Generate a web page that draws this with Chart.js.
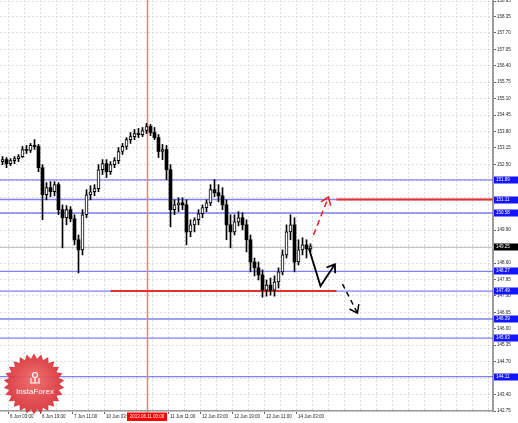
<!DOCTYPE html>
<html><head><meta charset="utf-8">
<script src="https://cdn.jsdelivr.net/npm/chart.js@4.4.1/dist/chart.umd.min.js"></script>
<style>html,body{margin:0;padding:0;background:#fff;overflow:hidden}canvas{display:block}</style>
</head><body>
<canvas id="c" width="518" height="423"></canvas>
<script>
// ---- data (2-hour candles, hours counted in trading hours from 5 Jun 23:00) ----
const opens = [152.61,152.69,152.53,152.65,152.73,152.81,153.09,153.05,153.25,153.21,
 152.37,151.30,151.58,151.42,151.70,150.71,150.39,150.71,150.35,149.52,
 149.12,150.51,151.30,151.42,151.54,152.29,152.53,152.21,152.49,152.65,
 153.01,153.21,153.48,153.60,153.72,153.68,153.84,154.00,153.76,153.56,
 153.01,153.09,152.29,150.71,150.90,150.98,150.90,149.83,150.11,150.31,
 150.55,150.79,150.98,151.50,151.38,151.26,150.90,150.11,149.83,150.23,
 150.39,150.11,149.52,148.64,148.41,148.13,147.53,147.73,147.53,147.85,
 148.25,148.92,149.83,150.11,148.64,149.12,149.32,149.16];
const highs = [152.81,152.77,152.73,152.81,152.89,153.21,153.25,153.33,153.48,153.29,
 152.49,151.78,151.82,151.82,151.78,150.90,150.87,150.83,150.51,149.71,
 150.71,151.50,151.66,151.70,152.49,152.69,152.69,152.61,152.77,153.17,
 153.33,153.56,153.76,153.88,153.92,153.96,154.12,154.08,153.96,153.68,
 153.29,153.25,152.49,151.10,151.18,151.18,151.10,150.31,150.39,150.71,
 150.90,151.10,151.70,151.90,151.70,151.58,151.10,150.51,150.51,150.63,
 150.59,150.31,149.71,148.80,148.64,148.33,147.93,148.01,148.09,148.41,
 149.12,150.11,150.51,150.39,149.52,149.60,149.52,149.36];
const lows = [152.49,152.37,152.45,152.53,152.61,152.77,152.93,152.97,153.09,152.21,
 150.31,151.10,151.22,151.26,150.51,149.20,150.11,150.23,149.32,148.21,
 148.92,150.39,151.10,151.26,151.42,152.10,151.98,152.10,152.37,152.53,
 152.89,153.09,153.33,153.48,153.56,153.60,153.72,153.64,153.48,152.77,
 152.69,151.90,150.03,150.51,150.63,150.71,149.32,149.64,149.83,150.11,
 150.39,150.63,150.87,151.22,151.02,150.71,149.52,149.20,149.71,150.07,
 149.91,149.04,148.25,148.09,147.93,147.25,147.29,147.33,147.29,147.61,
 148.13,148.80,149.52,148.25,148.52,148.92,148.80,149.04];
const closes = [152.69,152.53,152.65,152.73,152.81,153.09,153.05,153.25,153.21,152.37,
 151.30,151.58,151.42,151.70,150.71,150.39,150.71,150.35,149.52,149.12,
 150.51,151.30,151.42,151.54,152.29,152.53,152.21,152.49,152.65,153.01,
 153.21,153.48,153.60,153.72,153.68,153.84,154.00,153.76,153.56,153.01,
 153.09,152.29,150.71,150.90,150.98,150.90,149.83,150.11,150.31,150.55,
 150.79,150.98,151.50,151.38,151.26,150.90,150.11,149.83,150.23,150.39,
 150.11,149.52,148.64,148.41,148.13,147.53,147.73,147.53,147.85,148.25,
 148.92,149.83,150.11,148.64,149.12,149.32,149.16,149.25];
const barHours = opens.map((_, i) => i * 2 + 1);

const timeTickHours = [4, 20, 36, 52, 84, 100, 116, 132, 148];
const timeTickLabels = ['6 Jun 03:00','6 Jun 19:00','7 Jun 11:00','10 Jun 03:00','11 Jun 11:00','12 Jun 03:00','12 Jun 19:00','13 Jun 11:00','14 Jun 03:00'];
const markerHour = 73;
const markerLabel = '2013.06.11 00:00';

const priceTicks = [142.75,143.40,144.05,144.70,145.35,146.00,146.65,147.30,147.95,148.60,149.25,149.90,150.55,151.20,151.85,152.50,153.15,153.80,154.45,155.10,155.75,156.40,157.05,157.70,158.35,158.95];
const hiddenPriceTicks = [144.05,150.55,151.20,151.85];

const levelPrices = [151.89,151.11,150.58,148.27,147.49,146.39,145.63,144.11];
const currentPrice = 149.25;
const redLevelPrices = [151.11, 147.49];
const redLevelFromHours = [168, 55];
const redLevelToHours = [246.25, 168];

const blackArrowHours = [154.2, 160, 167.2];
const blackArrowPrices = [149.18, 147.69, 148.55];
const redArrowHours = [156.5, 164];
const redArrowPrices = [149.71, 151.21];
const dashArrowHours = [171, 178.5];
const dashArrowPrices = [147.77, 146.62];

const FONT = '"Liberation Sans", Arial, sans-serif';

function arrow(ctx, xs, ys, color, width, dash) {
  ctx.save();
  ctx.strokeStyle = color; ctx.lineWidth = width; ctx.setLineDash(dash);
  ctx.lineJoin = 'miter'; ctx.lineCap = 'butt';
  ctx.beginPath();
  xs.forEach((x, i) => i ? ctx.lineTo(x, ys[i]) : ctx.moveTo(x, ys[i]));
  ctx.stroke();
  const n = xs.length;
  const ang = Math.atan2(ys[n-1] - ys[n-2], xs[n-1] - xs[n-2]);
  const L = 9, s = 0.62;
  ctx.setLineDash([]);
  ctx.beginPath();
  ctx.moveTo(xs[n-1] - L*Math.cos(ang - s), ys[n-1] - L*Math.sin(ang - s));
  ctx.lineTo(xs[n-1], ys[n-1]);
  ctx.lineTo(xs[n-1] - L*Math.cos(ang + s), ys[n-1] - L*Math.sin(ang + s));
  ctx.stroke();
  ctx.restore();
}

const overlays = {
  id: 'overlays',
  beforeDatasetsDraw(chart) {
    const {ctx, chartArea: a, scales: {x, y}} = chart;
    ctx.save();
    ctx.setLineDash([]);
    ctx.strokeStyle = '#c4c4c4'; ctx.lineWidth = 1;
    let py = Math.round(y.getPixelForValue(currentPrice)) + 0.5;
    ctx.beginPath(); ctx.moveTo(a.left, py); ctx.lineTo(a.right, py); ctx.stroke();
    ctx.strokeStyle = 'rgba(60,60,255,0.65)'; ctx.lineWidth = 1.4;
    levelPrices.forEach(p => {
      const yy = y.getPixelForValue(p);
      ctx.beginPath(); ctx.moveTo(a.left, yy); ctx.lineTo(a.right, yy); ctx.stroke();
    });
    ctx.fillStyle = '#ff7a7a';
    const mx = Math.round(x.getPixelForValue(markerHour));
    ctx.fillRect(mx - 0.25, a.top, 1.5, a.bottom - a.top + 2);
    ctx.strokeStyle = '#e8302e'; ctx.lineWidth = 2;
    redLevelPrices.forEach((p, i) => {
      const yy = y.getPixelForValue(p);
      ctx.beginPath();
      ctx.moveTo(x.getPixelForValue(redLevelFromHours[i]), yy);
      ctx.lineTo(x.getPixelForValue(redLevelToHours[i]), yy);
      ctx.stroke();
    });
    ctx.restore();
  },
  afterDatasetsDraw(chart) {
    const {ctx, scales: {x, y}} = chart;
    arrow(ctx, blackArrowHours.map(h => x.getPixelForValue(h)), blackArrowPrices.map(p => y.getPixelForValue(p)), '#000', 1.8, []);
    arrow(ctx, redArrowHours.map(h => x.getPixelForValue(h)), redArrowPrices.map(p => y.getPixelForValue(p)), '#ee2222', 1.5, [6, 4]);
    arrow(ctx, dashArrowHours.map(h => x.getPixelForValue(h)), dashArrowPrices.map(p => y.getPixelForValue(p)), '#000', 1.5, [5, 4]);
  },
  afterDraw(chart) {
    const {ctx, chartArea: a, scales: {x, y}} = chart;
    ctx.save();
    const cx = 34, cy = 384, R = 30.5, r = 25.5, n = 26;
    ctx.globalAlpha = 0.93;
    const g = ctx.createRadialGradient(cx, cy - 6, 2, cx, cy, R);
    g.addColorStop(0, '#ee6262'); g.addColorStop(1, '#d62f37');
    ctx.fillStyle = g;
    ctx.beginPath();
    for (let i = 0; i < 2 * n; i++) {
      const rad = i % 2 ? r : R;
      const an = Math.PI * i / n - Math.PI / 2;
      const px = cx + rad * Math.cos(an), py = cy + rad * Math.sin(an);
      i ? ctx.lineTo(px, py) : ctx.moveTo(px, py);
    }
    ctx.closePath(); ctx.fill();
    ctx.globalAlpha = 1;
    ctx.strokeStyle = '#fff'; ctx.fillStyle = '#fff'; ctx.lineWidth = 1.2;
    ctx.beginPath(); ctx.arc(cx + 1, cy - 9, 2.5, 0, Math.PI * 2); ctx.stroke();
    ctx.beginPath();
    ctx.moveTo(cx - 3, cy - 6); ctx.lineTo(cx - 3, cy - 1);
    ctx.moveTo(cx + 1, cy - 6.5); ctx.lineTo(cx + 1, cy - 1);
    ctx.moveTo(cx + 5, cy - 6); ctx.lineTo(cx + 5, cy - 1);
    ctx.moveTo(cx - 4, cy - 1); ctx.lineTo(cx + 6, cy - 1);
    ctx.stroke();
    ctx.font = '8px ' + FONT; ctx.textAlign = 'center'; ctx.textBaseline = 'middle';
    ctx.fillText('InstaForex', cx + 1, cy + 8);
    ctx.font = '4.5px ' + FONT; ctx.textAlign = 'left';
    const boxes = levelPrices.map(p => [p, '#1414ff']).concat([[currentPrice, '#000000']]);
    boxes.forEach(([p, col]) => {
      const yy = y.getPixelForValue(p);
      ctx.fillStyle = col; ctx.fillRect(a.right + 1, Math.round(yy) - 3.5, 24, 7);
      ctx.fillStyle = '#fff'; ctx.fillText(p.toFixed(2), a.right + 3, Math.round(yy));
    });
    const mx = x.getPixelForValue(markerHour);
    ctx.fillStyle = '#ff0000'; ctx.fillRect(Math.round(mx) - 20, a.bottom + 1.5, 40, 8.5);
    ctx.fillStyle = '#fff'; ctx.textAlign = 'center';
    ctx.fillText(markerLabel, Math.round(mx), a.bottom + 6);
    ctx.restore();
  }
};

const bodies = barHours.map((h, i) => ({x: h, y: [opens[i], closes[i]]}));
const wicks = barHours.map((h, i) => ({x: h, y: [lows[i], highs[i]]}));

new Chart(document.getElementById('c'), {
  type: 'bar',
  data: {
    datasets: [
      { data: bodies, order: 0, grouped: false, barThickness: 3, borderSkipped: false,
        backgroundColor: closes.map((c, i) => c >= opens[i] ? '#ffffff' : '#000000'),
        borderColor: '#000', borderWidth: closes.map((c, i) => c >= opens[i] ? 1 : 0) },
      { data: wicks, order: 1, grouped: false, barThickness: 1, borderSkipped: false,
        backgroundColor: '#000', borderWidth: 0 }
    ]
  },
  options: {
    responsive: false, animation: false, devicePixelRatio: 1, events: [],
    layout: { padding: 0 },
    plugins: { legend: { display: false }, tooltip: { enabled: false } },
    scales: {
      x: {
        type: 'linear', min: -0.25, max: 246.25, offset: false,
        afterBuildTicks: s => { const t = []; for (let h = 4; h <= 244; h += 8) t.push({value: h}); s.ticks = t; },
        afterFit: s => { s.height = 12; s.paddingLeft = 0; s.paddingRight = 0; },
        ticks: {
          autoSkip: false, maxRotation: 0, minRotation: 0, align: 'start', padding: 0.5, labelOffset: 1.5,
          color: '#222', font: { size: 4.5, family: FONT },
          callback: v => { const k = timeTickHours.indexOf(v); return k >= 0 ? timeTickLabels[k] : ''; }
        },
        grid: { offset: false, color: '#dcdcdc', lineWidth: 1, tickLength: 3,
          tickColor: c => (c.tick && timeTickHours.indexOf(c.tick.value) >= 0) ? '#666' : 'rgba(0,0,0,0)' },
        border: { display: true, color: '#9c9c9c', width: 1.5, dash: [2, 2] }
      },
      y: {
        type: 'linear', position: 'right', min: 142.75, max: 159.0,
        afterBuildTicks: s => { s.ticks = priceTicks.map(v => ({value: v})); },
        afterFit: s => { s.width = 25; s.paddingTop = 0; s.paddingBottom = 0; },
        ticks: {
          autoSkip: false, padding: 1, color: '#222', font: { size: 4.5, family: FONT },
          callback: v => hiddenPriceTicks.indexOf(v) >= 0 ? '' : Number(v).toFixed(2)
        },
        grid: { color: '#dcdcdc', lineWidth: 1, tickLength: 3, tickColor: '#666' },
        border: { display: true, color: '#9c9c9c', width: 2, dash: [2, 2] }
      }
    }
  },
  plugins: [overlays]
});
</script>
</body></html>
